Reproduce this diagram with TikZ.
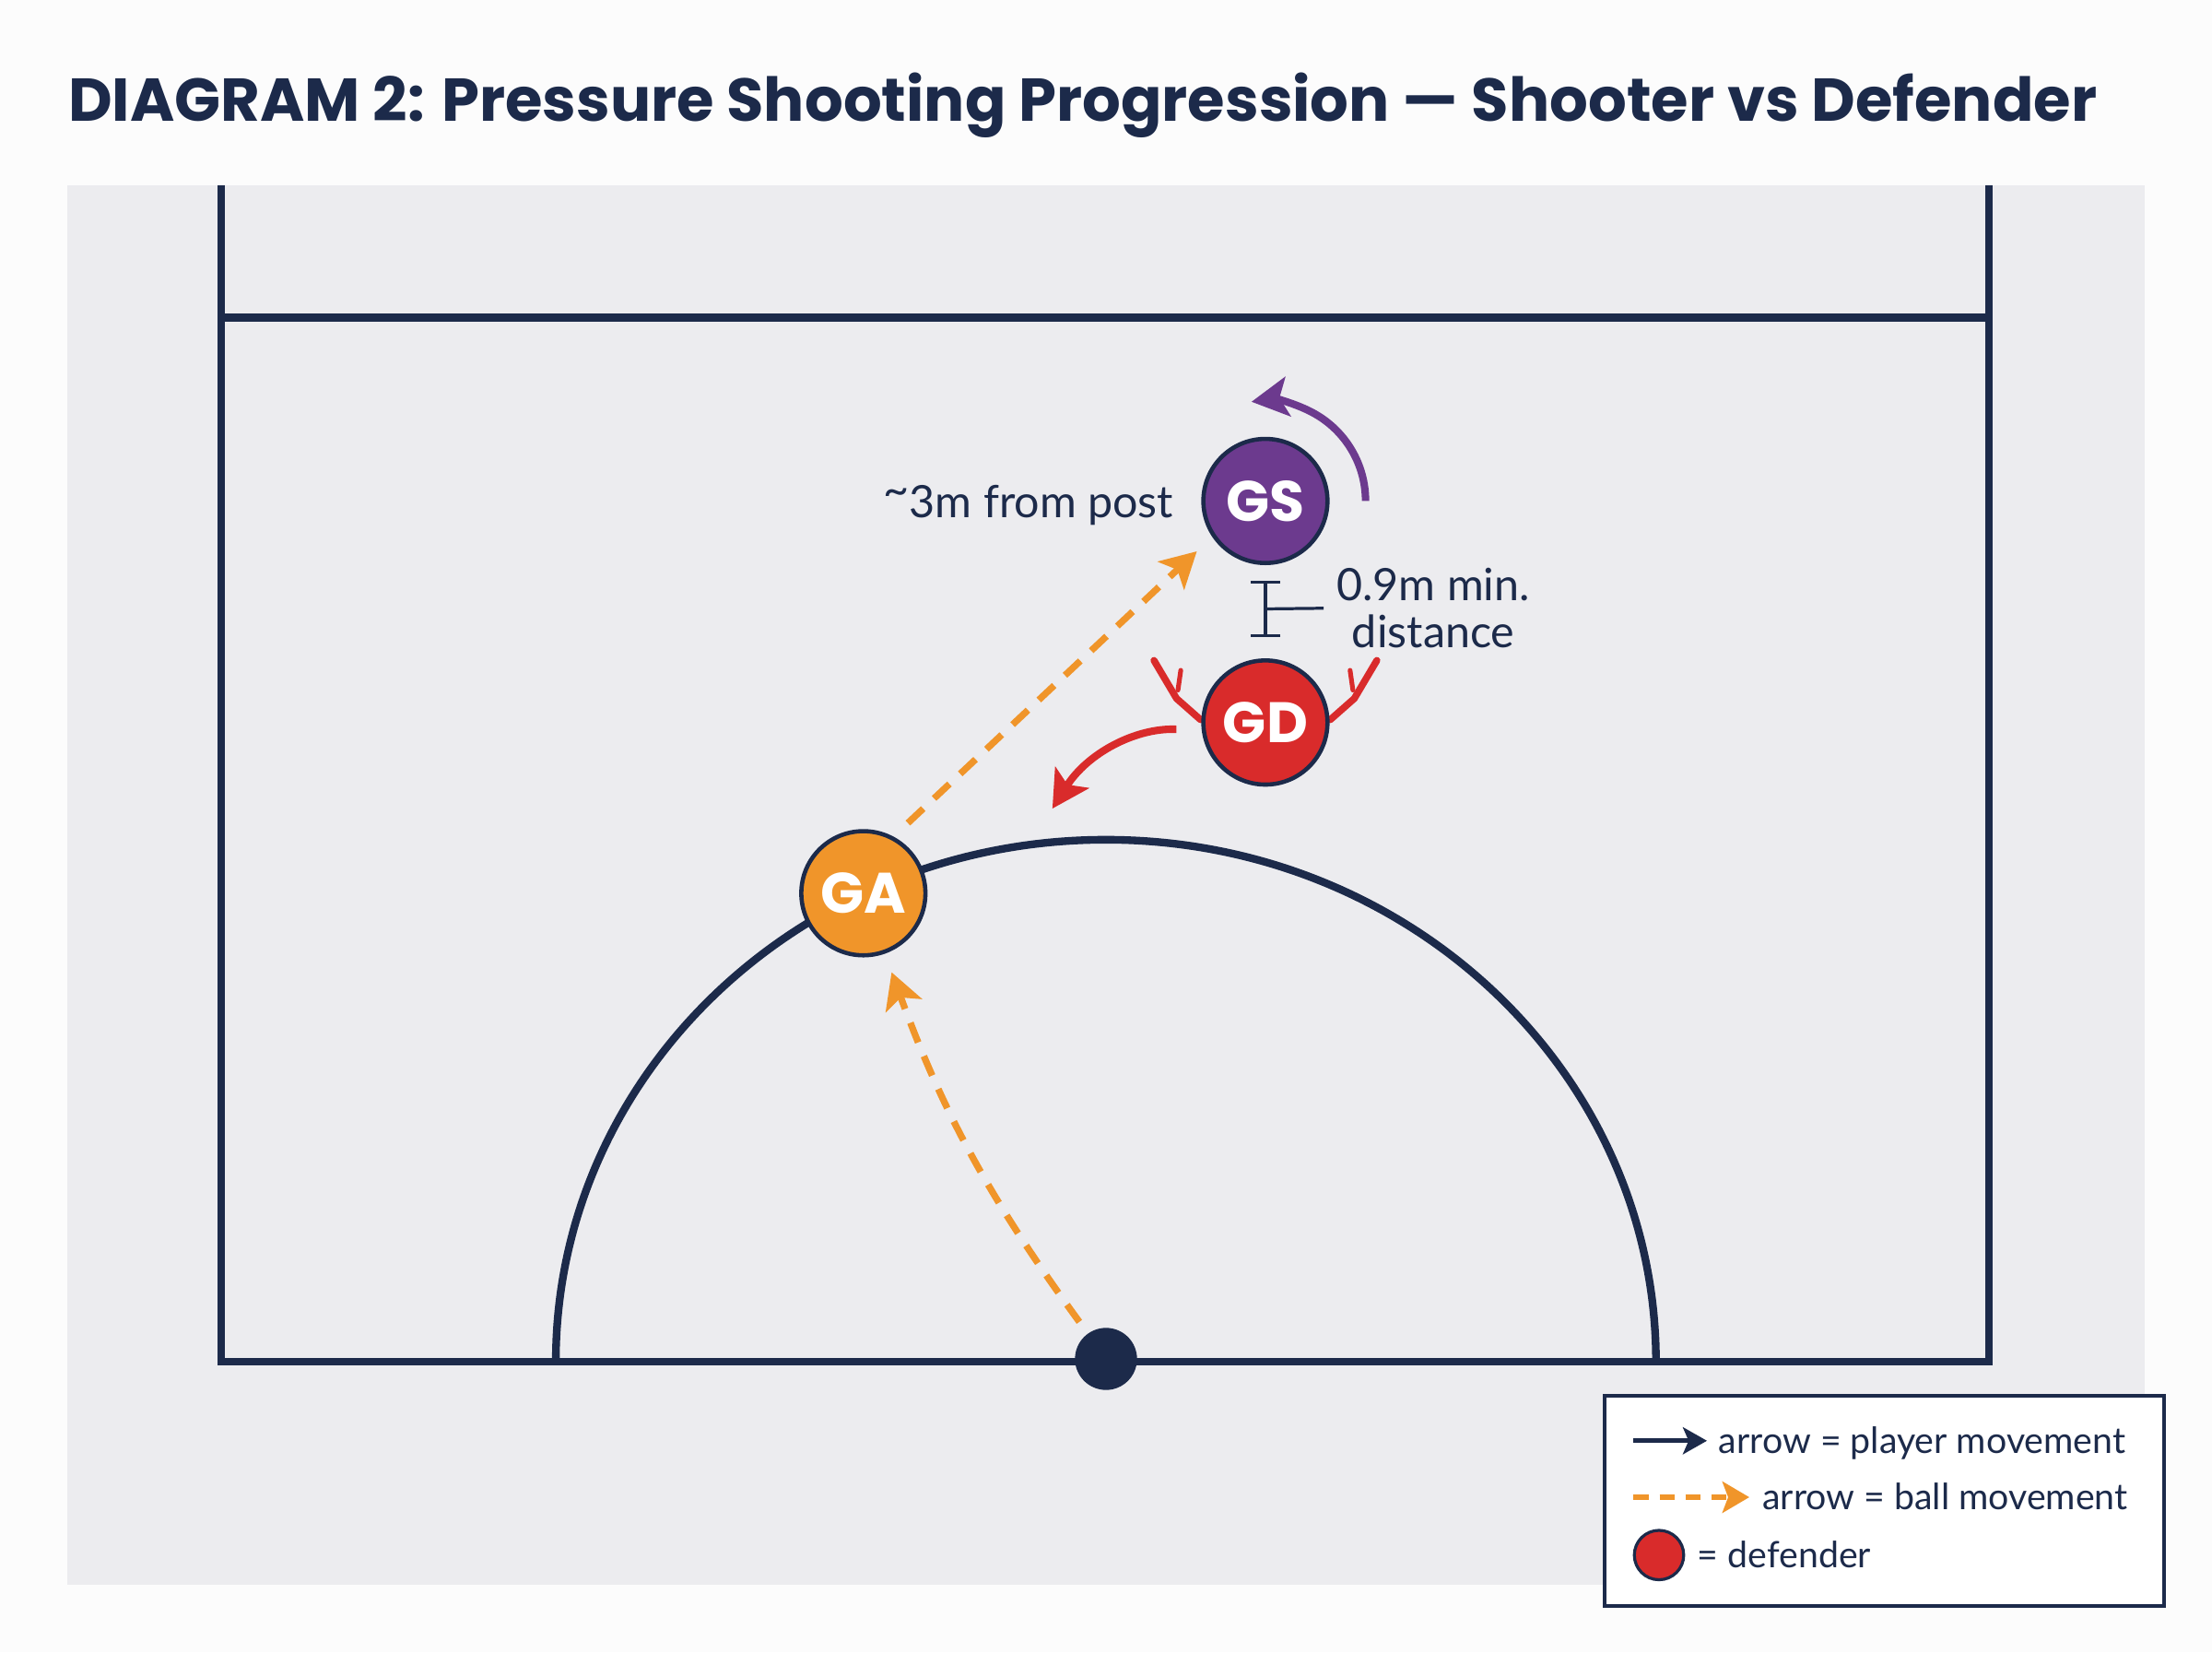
\documentclass[tikz,border=0pt]{standalone}
\usepackage{fontspec}
\setmainfont{Lato}
\newfontfamily\headfont{Poppins}
\usetikzlibrary{arrows.meta,positioning}
\usepackage{xcolor}

\definecolor{navy}{HTML}{1C2A4A}
\definecolor{paper}{HTML}{FCFCFC}
\definecolor{courtgray}{HTML}{ECECEF}
\definecolor{gaorange}{HTML}{F0952A}
\definecolor{gspurple}{HTML}{6C3A8E}
\definecolor{gdred}{HTML}{D92B2B}

\begin{document}
\begin{tikzpicture}[x=0.02cm, y=-0.02cm,
        courtline/.style={navy, line width=3.1pt},
        player/.style={circle, draw=navy, line width=1.7pt, minimum size=1.76cm, inner sep=0pt, text=white, font=\headfont\bfseries\fontsize{23}{26}\selectfont},
        ballpass/.style={gaorange, line width=2.7pt, dash pattern=on 8.5pt off 6pt, -{Stealth[length=0.5cm, width=0.54cm, inset=0.12cm]}},
        runarrow/.style={line width=3pt, -{Stealth[length=0.52cm, width=0.56cm, inset=0.12cm]}},
        arm/.style={gdred, line width=2.8pt, line cap=round, line join=round},
        note/.style={text=navy, font=\fontsize{18}{19}\selectfont},
        keytext/.style={text=navy, font=\fontsize{14.6}{18}\selectfont, anchor=base west, inner sep=0pt}]

        \useasboundingbox[fill=paper] (0,0) rectangle (1568,1171);
        \node[anchor=base west, inner sep=0pt, text=navy, font=\headfont\bfseries\fontsize{24.4}{30}\selectfont] (title) at (48,86) {DIAGRAM 2: Pressure Shooting Progression — Shooter vs Defender};

        % court
        \fill[courtgray] (48,131) rectangle (1520,1123);
        \draw[courtline] (157,131) -- (157,965) -- (1410,965) -- (1410,131);
        \draw[courtline] (157,225) -- (1410,225);
        \draw[courtline] (394,965) arc[start angle=180, end angle=0, x radius=7.8cm, y radius=7.4cm];

        % players
        \node[circle, fill=navy, minimum size=0.88cm, inner sep=0pt] (post) at (784,963) {};
        \node[player, fill=gaorange] (GA) at (612,633) {GA};
        \node[player, fill=gspurple] (GS) at (897,355) {GS};
        \coordinate (gdspot) at (897,512);
        \foreach \s in {-1,1} {
            \draw[arm] ([shift={(\s*46,-2)}]gdspot) -- ([shift={(\s*63,-17)}]gdspot) -- ([shift={(\s*79,-44)}]gdspot);
            \draw[arm, line width=1.9pt] ([shift={(\s*60,-37)}]gdspot) -- ([shift={(\s*62,-23)}]gdspot);
        }
        \node[player, fill=gdred] (GD) at (gdspot) {GD};

        % movement
        \draw[ballpass, shorten <=0.2cm, shorten >=0.28cm] (post) to[bend left=8] (GA);
        \draw[ballpass, shorten <=0.28cm, shorten >=0.3cm] (GA.62) -- (GS.214);
        \draw[runarrow, gspurple] ([shift={(0:1.42cm)}]GS.center) arc[start angle=0, end angle=98, radius=1.42cm];
        \coordinate (gdto) at (746,573);
        \draw[runarrow, gdred, shorten <=0.36cm] (GD.187) to[bend right=30] (gdto);

        % spacing
        \draw[navy, line width=1.2pt, {Bar[width=0.42cm]}-{Bar[width=0.42cm]}] ([yshift=-0.22cm]GS.south) -- coordinate (gapmid) ([yshift=0.3cm]GD.north);
        \node[note, align=center] (gaplabel) at (1016,431) {0.9m min.\\distance};
        \draw[navy, line width=1.2pt, shorten >=0.06cm] (gapmid) -- (gaplabel.west);
        \node[note, anchor=base east] (postnote) at (838,367) {\raisebox{0.28em}{\textasciitilde}3m from post};

        % key
        \node[draw=navy, fill=white, line width=1.4pt, minimum width=7.94cm, minimum height=2.98cm, anchor=north west] (legend) at (1136,988) {};
        \coordinate (k1) at (1158,1021);
        \node[keytext] (k1text) at (1218,1030) {arrow = player movement};
        \draw[navy, line width=2pt, -{Stealth[length=0.34cm, width=0.38cm, inset=0.08cm]}, shorten >=0.16cm] (k1) -- (k1 -| k1text.west);
        \coordinate (k2) at (1158,1061);
        \node[keytext] (k2text) at (1249,1070) {arrow = ball movement};
        \draw[gaorange, line width=2.2pt, dash pattern=on 6pt off 4.5pt, -{Stealth[length=0.38cm, width=0.44cm, inset=0.08cm]}, shorten >=0.18cm] (k2) -- (k2 -| k2text.west);
        \node[circle, draw=navy, fill=gdred, line width=1.2pt, minimum size=0.7cm, inner sep=0pt] (k3) at (1176,1102) {};
        \node[keytext] (k3text) at (1203,1111) {= defender};
    \end{tikzpicture}
\end{document}
